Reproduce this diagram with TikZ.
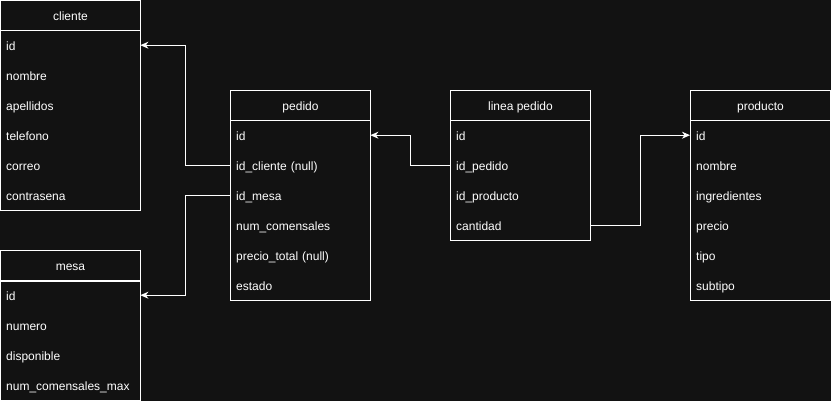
\documentclass[tikz,border=0pt]{standalone}
\usepackage{fontspec}
\setmainfont{Liberation Sans}
\usetikzlibrary{arrows.meta}
\definecolor{bgc}{HTML}{121212}
\tikzset{
  tabhead/.style={draw=white, line width=1pt, minimum width=140pt, minimum height=30pt,
    inner sep=0pt, text height=11pt, text depth=1pt, anchor=north west, text=white,
    font=\fontsize{12}{14}\selectfont},
  field/.style={minimum width=140pt, minimum height=30pt, inner xsep=6pt, inner ysep=0pt,
    text height=11pt, text depth=1pt, text width=128pt, align=left, anchor=north west,
    text=white, font=\fontsize{12}{14}\selectfont},
  tabbody/.style={draw=white, line width=1pt},
  link/.style={draw=white, line width=1pt, -{Stealth[length=8pt, width=7pt, inset=2.5pt]}}
}
\begin{document}
\begin{tikzpicture}[x=1pt, y=-1pt]
\fill [bgc] (0,0) rectangle (831,401);
\useasboundingbox (0,0) rectangle (831,401);
% cliente
\node [tabhead] (cliente) at (0,0) {cliente};
\foreach \n/\t [count=\i] in {id/{id}, nombre/{nombre}, apellidos/{apellidos},
    telefono/{telefono}, correo/{correo}, contrasena/{contrasena}}
  \node [field] (cliente-\n) at (0,30*\i) {\t};
\draw [tabbody] (cliente.south west) rectangle (cliente-contrasena.south east);
% mesa
\node [tabhead] (mesa) at (0,250) {mesa};
\foreach \n/\t [count=\i] in {id/{id}, numero/{numero}, disponible/{disponible},
    max/{num\_comensales\_max}}
  \node [field] (mesa-\n) at (0,250+30*\i) {\t};
\draw [tabbody] (mesa.south west) rectangle (mesa-max.south east);
% pedido
\node [tabhead] (pedido) at (230,90) {pedido};
\foreach \n/\t [count=\i] in {id/{id}, cliente/{id\_cliente (null)}, mesa/{id\_mesa},
    comensales/{num\_comensales}, total/{precio\_total (null)}, estado/{estado}}
  \node [field] (pedido-\n) at (230,90+30*\i) {\t};
\draw [tabbody] (pedido.south west) rectangle (pedido-estado.south east);
% linea pedido
\node [tabhead] (linea) at (450,90) {linea pedido};
\foreach \n/\t [count=\i] in {id/{id}, pedido/{id\_pedido}, producto/{id\_producto},
    cantidad/{cantidad}}
  \node [field] (linea-\n) at (450,90+30*\i) {\t};
\draw [tabbody] (linea.south west) rectangle (linea-cantidad.south east);
% producto
\node [tabhead] (producto) at (690,90) {producto};
\foreach \n/\t [count=\i] in {id/{id}, nombre/{nombre}, ingredientes/{ingredientes},
    precio/{precio}, tipo/{tipo}, subtipo/{subtipo}}
  \node [field] (producto-\n) at (690,90+30*\i) {\t};
\draw [tabbody] (producto.south west) rectangle (producto-subtipo.south east);
% relaciones
\draw [link] (pedido-cliente.west) -- ++(-45,0) |- (cliente-id.east);
\draw [link] (pedido-mesa.west) -- ++(-45,0) |- (mesa-id.east);
\draw [link] (linea-pedido.west) -- ++(-40,0) |- (pedido-id.east);
\draw [link] (linea-cantidad.east) -- ++(50,0) |- (producto-id.west);
\end{tikzpicture}
\end{document}
